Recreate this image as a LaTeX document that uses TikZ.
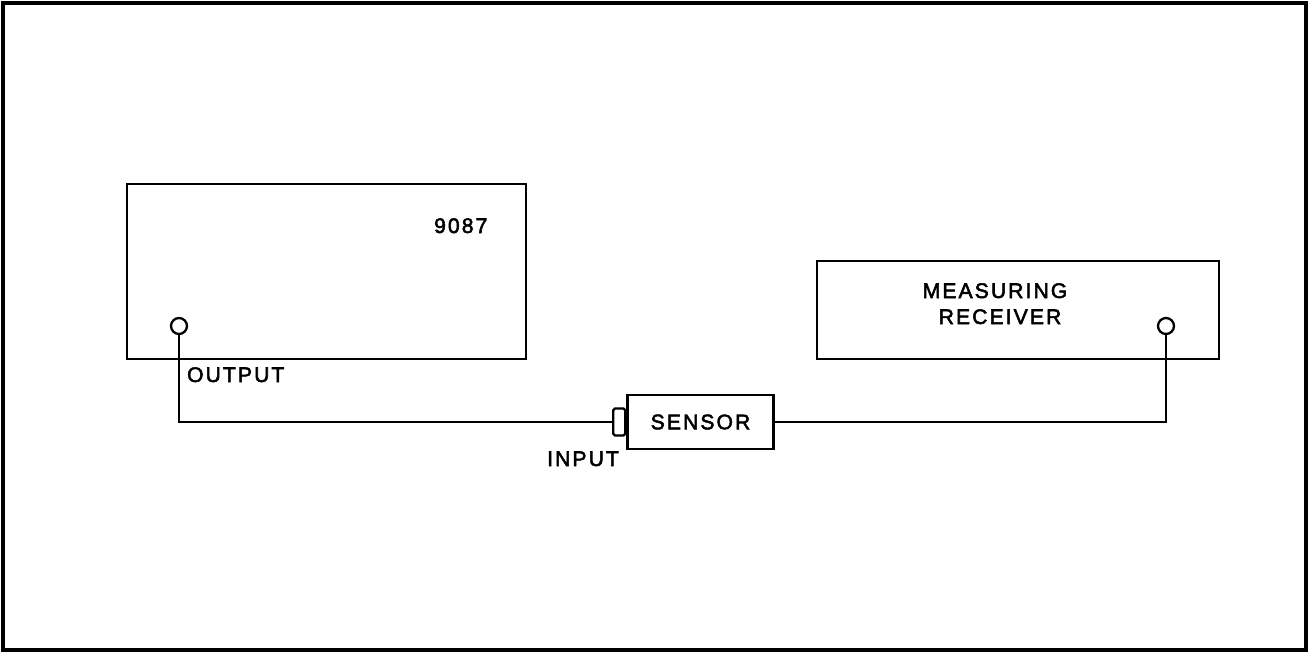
\documentclass[tikz,border=0pt]{standalone}
\usepackage{fontspec}
\setmainfont{Liberation Sans}[LetterSpace=10, FakeBold=2.5]
\usetikzlibrary{positioning}
\tikzset{
  jack/.style={circle, draw, fill=white, inner sep=0pt, minimum size=0.32cm},
  label/.style={font=\fontsize{12}{14}\selectfont, inner sep=0pt}
}
\begin{document}
\begin{tikzpicture}[x=0.02cm, y=-0.02cm, line width=1.3pt]
    \useasboundingbox (0,0) rectangle (1309,653);
    \draw[line width=2.3pt] (3,3) rectangle (1306,650);
    % generator
    \draw (127,184) rectangle (526,359);
    \node[label, anchor=base west] (gen) at (433,233) {9087};
    \node[jack] (out) at (179,326) {};
    \node[label, anchor=base west] (outlbl) at (186,382) {OUTPUT};
    % measuring receiver
    \draw (817,261) rectangle (1219,359);
    \node[label, anchor=base] (meas) at (995,298) {MEASURING};
    \node[label, anchor=base] (rcvlbl) at (1000,324) {RECEIVER};
    \node[jack] (rcv) at (1166,326) {};
    % sensor
    \node[draw, label, minimum width=2.92cm, minimum height=1.08cm, inner sep=0pt] (sensor) at (700.5,422) {SENSOR};
    \node[draw, rounded corners=1pt, minimum width=0.24cm, minimum height=0.54cm, anchor=east, inner sep=0pt] (plug) at (sensor.west) {};
    \node[label, anchor=base east] (inlbl) at (620,466) {INPUT};
    % cables
    \draw (out.south) |- (plug.west);
    \draw (rcv.south) |- (sensor.east);
\end{tikzpicture}
\end{document}
